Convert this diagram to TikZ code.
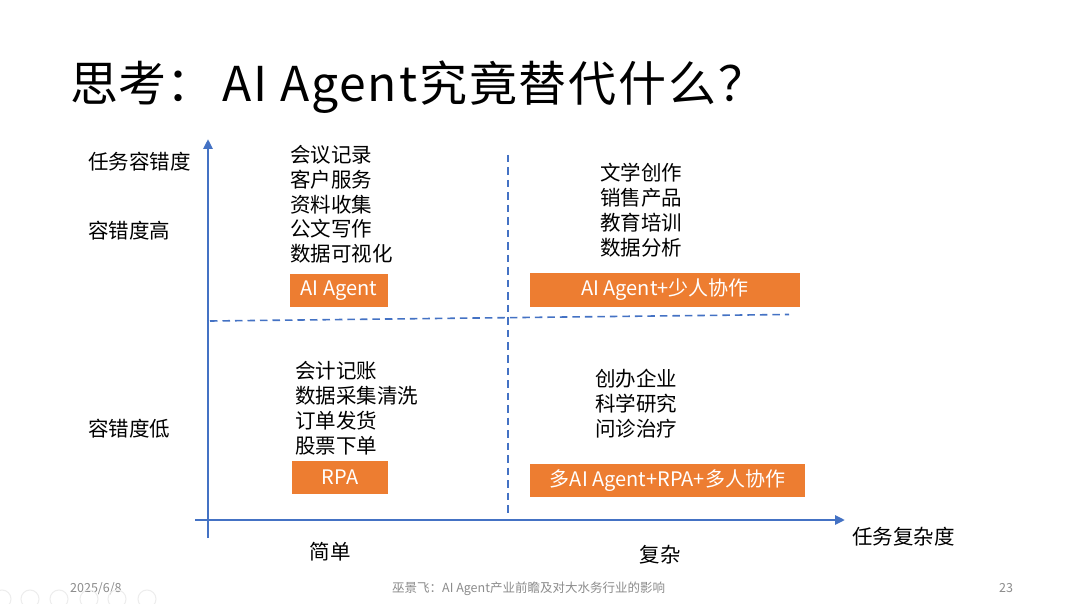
\documentclass[tikz,border=0pt]{standalone}
\usepackage{fontspec}
\setmainfont{Noto Sans CJK SC}
\usetikzlibrary{arrows.meta}
\definecolor{axblue}{HTML}{4472C4}
\definecolor{orng}{HTML}{ED7D31}
\definecolor{foot}{HTML}{8C8C8C}
\begin{document}
\begin{tikzpicture}[x=1pt,y=-1pt,
  lst/.style={anchor=west,inner sep=0pt,text height=18pt,text depth=2.5pt,font=\fontsize{20.5}{24}\selectfont},
  lbl/.style={lst},
  ttl/.style={anchor=west,inner sep=0pt,text height=42.2pt,text depth=5.8pt,font=\fontsize{48}{54}\selectfont},
  ftr/.style={anchor=west,inner sep=0pt,text height=11pt,text depth=1.5pt,text=foot,font=\fontsize{12.5}{14}\selectfont},
  obox/.style={fill=orng,text=white,inner sep=0pt,font=\fontsize{20}{24}\selectfont},
  axis/.style={draw=axblue,line width=2.8pt,-{Triangle[length=10pt,width=9pt]}},
  dsh/.style={draw=axblue,line width=1.6pt,dash pattern=on 7.5pt off 5pt},
  tool/.style={draw=black!7,line width=1pt}
]
\useasboundingbox (0,0) rectangle (1080,604);
\fill[white] (0,0) rectangle (1080,604);

% title
\node[ttl] (title) at (70,83) {思考：};
\node[ttl,font={\fontsize{48}{54}\selectfont\addfontfeatures{LetterSpace=4}}] (title2) at (222,83) {AI Agent究竟替代什么？};

% axes
\coordinate (yb) at (208,538);
\coordinate (yt) at (208,139);
\coordinate (xl) at (195,520);
\coordinate (xr) at (845,520);
\draw[axis] (yb) -- (yt);
\draw[axis] (xl) -- (xr);

% dashed dividers
\coordinate (vt) at (508,155);
\coordinate (vb) at (508,517);
\coordinate (hl) at (210,321);
\coordinate (hr) at (789,314.5);
\draw[dsh] (vt) -- (vb);
\draw[dsh] (hl) -- (hr);

% axis labels
\node[lbl] (ylab) at (88,162) {任务容错度};
\node[lbl] (yhi) at (88,231) {容错度高};
\node[lbl] (ylo) at (88,429) {容错度低};
\node[lbl,anchor=center] (xs) at (330,552) {简单};
\node[lbl,anchor=center] (xc) at (660,555) {复杂};
\node[lbl] (xlab) at (852,537) {任务复杂度};

% top-left list
\node[lst] (tl1) at (290,155) {会议记录};
\node[lst] (tl2) at (290,180) {客户服务};
\node[lst] (tl3) at (290,204.5) {资料收集};
\node[lst] (tl4) at (290,229) {公文写作};
\node[lst] (tl5) at (290,254) {数据可视化};

% top-right list
\node[lst] (tr1) at (600,173) {文学创作};
\node[lst] (tr2) at (600,198) {销售产品};
\node[lst] (tr3) at (600,223) {教育培训};
\node[lst] (tr4) at (600,248) {数据分析};

% bottom-left list
\node[lst] (bl1) at (295,371) {会计记账};
\node[lst] (bl2) at (295,396) {数据采集清洗};
\node[lst] (bl3) at (295,421) {订单发货};
\node[lst] (bl4) at (295,446) {股票下单};

% bottom-right list
\node[lst] (br1) at (595,379) {创办企业};
\node[lst] (br2) at (595,404) {科学研究};
\node[lst] (br3) at (595,429) {问诊治疗};

% orange boxes
\node[obox,minimum width=98pt,minimum height=33pt] (b1) at (339,290.5) {AI Agent};
\node[obox,minimum width=270pt,minimum height=34pt] (b2) at (665,290) {AI Agent+少人协作};
\node[obox,minimum width=96pt,minimum height=33pt] (b3) at (340,477.5) {RPA};
\node[obox,minimum width=275pt,minimum height=33pt] (b4) at (667.5,480.5) {多AI Agent+RPA+多人协作};

% footer
\node[ftr] (date) at (70,588) {2025/6/8};
\node[ftr] (ftitle) at (392,588) {巫景飞：AI Agent产业前瞻及对大水务行业的影响};
\node[ftr] (page) at (999,588) {23};

% toolbar (faint)
\foreach \i/\cx in {1/2,2/30,3/59,4/89,5/117,6/147}{
  \draw[tool] (\cx,599) circle[radius=9pt];
}
\end{tikzpicture}
\end{document}
